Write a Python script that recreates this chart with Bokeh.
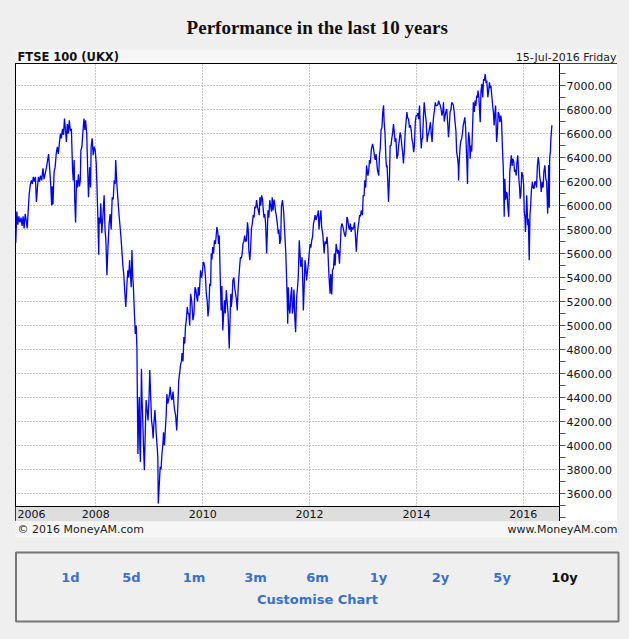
from datetime import datetime
import pandas as pd
from bokeh.plotting import figure
from bokeh.models import Range1d, LinearAxis, FixedTicker, NumeralTickFormatter, Grid, Span, Spacer
from bokeh.layouts import column, row
from bokeh.embed import file_html
from bokeh.resources import INLINE
from bokeh.core.properties import value

# ---------------- data (FTSE 100 closes) ----------------
y2006 = [("2006-07-03", 5690), ("2006-07-10", 5950), ("2006-07-17", 5840), ("2006-07-24", 5910),
         ("2006-07-31", 5860), ("2006-08-08", 5900), ("2006-08-15", 5830), ("2006-08-22", 5910),
         ("2006-08-29", 5810), ("2006-09-05", 5930), ("2006-09-12", 5880), ("2006-09-19", 5810),
         ("2006-09-26", 5960), ("2006-10-03", 6100), ("2006-10-10", 6170), ("2006-10-17", 6210),
         ("2006-10-24", 6180), ("2006-10-31", 6240), ("2006-11-07", 6200), ("2006-11-14", 6240),
         ("2006-11-21", 6030), ("2006-11-28", 6150), ("2006-12-05", 6240), ("2006-12-12", 6200),
         ("2006-12-19", 6250), ("2006-12-27", 6210)]
y2007 = [("2007-01-05", 6310), ("2007-01-12", 6220), ("2007-01-19", 6260), ("2007-01-29", 6320),
         ("2007-02-06", 6380), ("2007-02-12", 6430), ("2007-02-20", 6300), ("2007-02-27", 6170),
         ("2007-03-05", 6000), ("2007-03-09", 6160), ("2007-03-14", 6010), ("2007-03-22", 6280),
         ("2007-03-29", 6320), ("2007-04-06", 6440), ("2007-04-13", 6490), ("2007-04-20", 6430),
         ("2007-04-27", 6520), ("2007-05-04", 6600), ("2007-05-11", 6560), ("2007-05-18", 6640),
         ("2007-05-25", 6590), ("2007-06-01", 6725), ("2007-06-08", 6620), ("2007-06-14", 6530),
         ("2007-06-20", 6680), ("2007-06-27", 6600), ("2007-07-04", 6710), ("2007-07-11", 6620),
         ("2007-07-18", 6640), ("2007-07-26", 6300), ("2007-07-31", 6210), ("2007-08-06", 6380),
         ("2007-08-10", 6040), ("2007-08-16", 5860), ("2007-08-22", 6210), ("2007-08-29", 6150),
         ("2007-09-04", 6260), ("2007-09-11", 6160), ("2007-09-17", 6210), ("2007-09-21", 6460),
         ("2007-09-28", 6490), ("2007-10-05", 6620), ("2007-10-12", 6725), ("2007-10-18", 6630),
         ("2007-10-23", 6710), ("2007-10-31", 6600), ("2007-11-06", 6320), ("2007-11-12", 6070),
         ("2007-11-20", 6320), ("2007-11-26", 6150), ("2007-11-30", 6490), ("2007-12-07", 6560),
         ("2007-12-14", 6420), ("2007-12-21", 6490), ("2007-12-28", 6460)]
y2008 = [("2008-01-04", 6350), ("2008-01-09", 6160), ("2008-01-15", 5900), ("2008-01-21", 5590),
         ("2008-01-24", 5900), ("2008-01-30", 5850), ("2008-02-04", 6020), ("2008-02-11", 5770),
         ("2008-02-18", 5900), ("2008-02-27", 6085), ("2008-03-04", 5800), ("2008-03-10", 5710),
         ("2008-03-17", 5420), ("2008-03-24", 5650), ("2008-04-01", 5850), ("2008-04-08", 5930),
         ("2008-04-15", 5800), ("2008-04-22", 6070), ("2008-04-29", 6050), ("2008-05-06", 6210),
         ("2008-05-12", 6180), ("2008-05-16", 6380), ("2008-05-23", 6200), ("2008-05-30", 6070),
         ("2008-06-06", 5950), ("2008-06-13", 5850), ("2008-06-20", 5750), ("2008-06-27", 5630),
         ("2008-07-04", 5500), ("2008-07-10", 5430), ("2008-07-16", 5300), ("2008-07-24", 5155),
         ("2008-08-01", 5350), ("2008-08-07", 5460), ("2008-08-13", 5400), ("2008-08-19", 5545),
         ("2008-08-25", 5420), ("2008-08-30", 5320), ("2008-09-04", 5630), ("2008-09-10", 5400),
         ("2008-09-15", 5295), ("2008-09-21", 5100), ("2008-09-27", 4930), ("2008-10-03", 5000),
         ("2008-10-08", 4820), ("2008-10-12", 4300), ("2008-10-15", 3930), ("2008-10-20", 4250),
         ("2008-10-24", 4405), ("2008-10-28", 4000), ("2008-11-01", 3864), ("2008-11-05", 4300),
         ("2008-11-08", 4640), ("2008-11-12", 4400), ("2008-11-17", 4210), ("2008-11-22", 4000),
         ("2008-11-28", 3795), ("2008-12-04", 4100), ("2008-12-10", 4380), ("2008-12-16", 4300),
         ("2008-12-23", 4210), ("2008-12-30", 4400)]
y2009 = [("2009-01-04", 4630), ("2009-01-09", 4450), ("2009-01-16", 4210), ("2009-01-22", 4150),
         ("2009-01-27", 4060), ("2009-02-02", 4200), ("2009-02-08", 4295), ("2009-02-13", 4200),
         ("2009-02-17", 4100), ("2009-02-23", 4000), ("2009-02-28", 3905), ("2009-03-03", 3517),
         ("2009-03-09", 3650), ("2009-03-16", 3822), ("2009-03-22", 3800), ("2009-03-28", 3930),
         ("2009-04-03", 4000), ("2009-04-08", 4110), ("2009-04-14", 4000), ("2009-04-20", 4125),
         ("2009-04-26", 4250), ("2009-05-01", 4430), ("2009-05-07", 4350), ("2009-05-13", 4380),
         ("2009-05-19", 4430), ("2009-05-24", 4490), ("2009-05-30", 4400), ("2009-06-05", 4380),
         ("2009-06-12", 4450), ("2009-06-18", 4350), ("2009-06-23", 4295), ("2009-06-30", 4250),
         ("2009-07-07", 4125), ("2009-07-14", 4300), ("2009-07-21", 4545), ("2009-07-27", 4600),
         ("2009-08-02", 4670), ("2009-08-08", 4700), ("2009-08-13", 4770), ("2009-08-19", 4700),
         ("2009-08-25", 4905), ("2009-08-31", 4850), ("2009-09-05", 4990), ("2009-09-11", 5050),
         ("2009-09-17", 5155), ("2009-09-23", 5100), ("2009-09-28", 5100), ("2009-10-04", 5000),
         ("2009-10-10", 5265), ("2009-10-18", 5200), ("2009-10-26", 5045), ("2009-11-02", 5100),
         ("2009-11-09", 5320), ("2009-11-15", 5300), ("2009-11-20", 5240), ("2009-11-27", 5200),
         ("2009-12-01", 5320), ("2009-12-08", 5250), ("2009-12-17", 5460), ("2009-12-24", 5400),
         ("2009-12-31", 5460)]
y2010 = [("2010-01-04", 5530), ("2010-01-10", 5520), ("2010-01-14", 5490), ("2010-01-20", 5400),
         ("2010-01-25", 5270), ("2010-02-01", 5200), ("2010-02-06", 5075), ("2010-02-12", 5150),
         ("2010-02-18", 5350), ("2010-02-24", 5330), ("2010-02-28", 5600), ("2010-03-05", 5550),
         ("2010-03-10", 5655), ("2010-03-16", 5600), ("2010-03-22", 5710), ("2010-03-29", 5680),
         ("2010-04-08", 5820), ("2010-04-14", 5780), ("2010-04-19", 5680), ("2010-04-24", 5750),
         ("2010-04-30", 5430), ("2010-05-07", 5125), ("2010-05-12", 5330), ("2010-05-18", 4960),
         ("2010-05-24", 5100), ("2010-05-30", 5210), ("2010-06-04", 5100), ("2010-06-11", 5295),
         ("2010-06-17", 5200), ("2010-06-23", 5100), ("2010-07-01", 4808), ("2010-07-06", 5020),
         ("2010-07-12", 5265), ("2010-07-15", 5155), ("2010-07-21", 5230), ("2010-07-26", 5375),
         ("2010-08-02", 5400), ("2010-08-07", 5320), ("2010-08-13", 5270), ("2010-08-19", 5220),
         ("2010-08-25", 5125), ("2010-08-30", 5280), ("2010-09-05", 5405), ("2010-09-11", 5500),
         ("2010-09-16", 5570), ("2010-09-22", 5560), ("2010-09-28", 5600), ("2010-10-03", 5680),
         ("2010-10-09", 5700), ("2010-10-15", 5750), ("2010-10-21", 5700), ("2010-10-27", 5710),
         ("2010-11-03", 5860), ("2010-11-08", 5800), ("2010-11-12", 5630), ("2010-11-19", 5545),
         ("2010-11-25", 5650), ("2010-11-30", 5810), ("2010-12-06", 5850), ("2010-12-12", 5920),
         ("2010-12-18", 5900), ("2010-12-23", 5990), ("2010-12-30", 5980)]
y2011 = [("2011-01-04", 6045), ("2011-01-10", 5990), ("2011-01-16", 5960), ("2011-01-22", 5920),
         ("2011-01-27", 6070), ("2011-02-02", 6000), ("2011-02-08", 6085), ("2011-02-14", 6050),
         ("2011-02-19", 5960), ("2011-02-24", 5900), ("2011-03-01", 5930), ("2011-03-07", 5850),
         ("2011-03-14", 5600), ("2011-03-18", 5750), ("2011-03-23", 5960), ("2011-03-29", 5900),
         ("2011-04-04", 6045), ("2011-04-10", 6000), ("2011-04-16", 5950), ("2011-04-21", 6070),
         ("2011-04-27", 5960), ("2011-05-03", 6050), ("2011-05-08", 6015), ("2011-05-14", 5950),
         ("2011-05-20", 5905), ("2011-05-26", 5850), ("2011-06-01", 5765), ("2011-06-06", 5800),
         ("2011-06-12", 5680), ("2011-06-18", 5720), ("2011-06-23", 5990), ("2011-06-30", 6045),
         ("2011-07-05", 5990), ("2011-07-09", 5930), ("2011-07-16", 5765), ("2011-07-23", 5600),
         ("2011-07-28", 5405), ("2011-08-02", 5200), ("2011-08-05", 5015), ("2011-08-09", 5320),
         ("2011-08-14", 5150), ("2011-08-20", 5100), ("2011-08-26", 5250), ("2011-09-01", 5320),
         ("2011-09-06", 5100), ("2011-09-12", 5155), ("2011-09-16", 5300), ("2011-09-19", 5240),
         ("2011-09-23", 5050), ("2011-09-28", 4945), ("2011-10-05", 5240), ("2011-10-10", 5300),
         ("2011-10-16", 5405), ("2011-10-23", 5710), ("2011-10-28", 5600), ("2011-11-02", 5490),
         ("2011-11-07", 5520), ("2011-11-11", 5570), ("2011-11-16", 5350), ("2011-11-20", 5125),
         ("2011-11-25", 5300), ("2011-12-01", 5545), ("2011-12-06", 5500), ("2011-12-12", 5375),
         ("2011-12-18", 5450), ("2011-12-24", 5515), ("2011-12-30", 5600)]
y2012 = [("2012-01-05", 5680), ("2012-01-10", 5650), ("2012-01-16", 5710), ("2012-01-22", 5740),
         ("2012-01-28", 5850), ("2012-02-03", 5880), ("2012-02-08", 5920), ("2012-02-14", 5880),
         ("2012-02-20", 5905), ("2012-02-26", 5930), ("2012-03-01", 5960), ("2012-03-06", 5800),
         ("2012-03-13", 5905), ("2012-03-19", 5960), ("2012-03-24", 5820), ("2012-04-01", 5760),
         ("2012-04-10", 5600), ("2012-04-16", 5700), ("2012-04-23", 5680), ("2012-04-30", 5740),
         ("2012-05-05", 5650), ("2012-05-10", 5490), ("2012-05-16", 5350), ("2012-05-21", 5265),
         ("2012-05-25", 5430), ("2012-06-01", 5260), ("2012-06-06", 5460), ("2012-06-13", 5480),
         ("2012-06-19", 5600), ("2012-06-24", 5500), ("2012-07-01", 5680), ("2012-07-05", 5650),
         ("2012-07-11", 5600), ("2012-07-17", 5630), ("2012-07-24", 5515), ("2012-07-29", 5650),
         ("2012-08-04", 5820), ("2012-08-09", 5850), ("2012-08-15", 5830), ("2012-08-21", 5795),
         ("2012-08-27", 5760), ("2012-09-02", 5740), ("2012-09-08", 5800), ("2012-09-13", 5905),
         ("2012-09-19", 5880), ("2012-09-25", 5820), ("2012-10-01", 5800), ("2012-10-06", 5850),
         ("2012-10-12", 5780), ("2012-10-17", 5820), ("2012-10-23", 5800), ("2012-10-29", 5820),
         ("2012-11-04", 5860), ("2012-11-09", 5765), ("2012-11-16", 5615), ("2012-11-22", 5750),
         ("2012-11-28", 5820), ("2012-12-04", 5870), ("2012-12-09", 5920), ("2012-12-14", 5910),
         ("2012-12-20", 5960), ("2012-12-28", 5920)]
y2013 = [("2013-01-02", 6085), ("2013-01-08", 6080), ("2013-01-13", 6210), ("2013-01-19", 6150),
         ("2013-01-25", 6335), ("2013-02-03", 6250), ("2013-02-08", 6280), ("2013-02-14", 6380),
         ("2013-02-20", 6350), ("2013-02-26", 6460), ("2013-03-07", 6515), ("2013-03-13", 6480),
         ("2013-03-19", 6420), ("2013-03-25", 6380), ("2013-03-31", 6430), ("2013-04-09", 6300),
         ("2013-04-18", 6250), ("2013-04-24", 6430), ("2013-04-29", 6480), ("2013-05-04", 6630),
         ("2013-05-10", 6650), ("2013-05-15", 6765), ("2013-05-21", 6835), ("2013-05-25", 6700),
         ("2013-05-31", 6600), ("2013-06-06", 6400), ("2013-06-10", 6320), ("2013-06-14", 6335),
         ("2013-06-19", 6200), ("2013-06-24", 6030), ("2013-07-01", 6250), ("2013-07-05", 6500),
         ("2013-07-11", 6500), ("2013-07-16", 6555), ("2013-07-22", 6600), ("2013-07-28", 6680),
         ("2013-08-02", 6620), ("2013-08-08", 6530), ("2013-08-14", 6560), ("2013-08-20", 6390),
         ("2013-08-27", 6420), ("2013-09-01", 6500), ("2013-09-06", 6550), ("2013-09-12", 6610),
         ("2013-09-17", 6580), ("2013-09-23", 6500), ("2013-09-28", 6450), ("2013-10-04", 6350),
         ("2013-10-10", 6450), ("2013-10-16", 6610), ("2013-10-22", 6700), ("2013-10-28", 6780),
         ("2013-11-02", 6730), ("2013-11-08", 6720), ("2013-11-14", 6650), ("2013-11-20", 6670),
         ("2013-11-26", 6630), ("2013-12-01", 6555), ("2013-12-07", 6520), ("2013-12-13", 6445),
         ("2013-12-18", 6500), ("2013-12-24", 6695), ("2013-12-30", 6750)]
y2014 = [("2014-01-05", 6750), ("2014-01-10", 6770), ("2014-01-16", 6720), ("2014-01-22", 6834),
         ("2014-01-28", 6620), ("2014-02-03", 6475), ("2014-02-08", 6560), ("2014-02-12", 6555),
         ("2014-02-18", 6740), ("2014-02-23", 6860), ("2014-03-04", 6750), ("2014-03-09", 6700),
         ("2014-03-15", 6530), ("2014-03-20", 6580), ("2014-03-26", 6610), ("2014-04-01", 6650),
         ("2014-04-07", 6695), ("2014-04-12", 6600), ("2014-04-18", 6530), ("2014-04-24", 6680),
         ("2014-04-29", 6750), ("2014-05-05", 6800), ("2014-05-10", 6860), ("2014-05-15", 6830),
         ("2014-05-21", 6834), ("2014-05-27", 6840), ("2014-06-02", 6875), ("2014-06-07", 6850),
         ("2014-06-13", 6834), ("2014-06-19", 6800), ("2014-06-24", 6750), ("2014-06-30", 6780),
         ("2014-07-05", 6860), ("2014-07-10", 6700), ("2014-07-16", 6750), ("2014-07-21", 6780),
         ("2014-07-27", 6805), ("2014-08-02", 6700), ("2014-08-08", 6570), ("2014-08-13", 6650),
         ("2014-08-19", 6780), ("2014-08-25", 6800), ("2014-08-30", 6860), ("2014-09-05", 6850),
         ("2014-09-11", 6834), ("2014-09-16", 6780), ("2014-09-22", 6695), ("2014-09-28", 6620),
         ("2014-10-03", 6445), ("2014-10-09", 6400), ("2014-10-14", 6335), ("2014-10-16", 6210),
         ("2014-10-21", 6380), ("2014-10-27", 6500), ("2014-11-01", 6540), ("2014-11-06", 6555),
         ("2014-11-12", 6610), ("2014-11-17", 6670), ("2014-11-22", 6700), ("2014-11-28", 6735),
         ("2014-12-03", 6650), ("2014-12-08", 6475), ("2014-12-12", 6350), ("2014-12-16", 6180),
         ("2014-12-20", 6500), ("2014-12-24", 6610), ("2014-12-30", 6550)]
y2015 = [("2015-01-03", 6390), ("2015-01-08", 6500), ("2015-01-14", 6450), ("2015-01-19", 6620),
         ("2015-01-25", 6860), ("2015-01-31", 6780), ("2015-02-06", 6875), ("2015-02-11", 6830),
         ("2015-02-17", 6917), ("2015-02-22", 6900), ("2015-02-26", 6958), ("2015-03-04", 6900),
         ("2015-03-10", 6760), ("2015-03-13", 6695), ("2015-03-18", 6945), ("2015-03-24", 7014),
         ("2015-03-30", 6900), ("2015-04-05", 7055), ("2015-04-10", 7040), ("2015-04-16", 7097),
         ("2015-04-22", 7020), ("2015-04-27", 7041), ("2015-05-04", 6903), ("2015-05-09", 6950),
         ("2015-05-15", 7028), ("2015-05-20", 6980), ("2015-05-25", 7000), ("2015-06-02", 6890),
         ("2015-06-07", 6820), ("2015-06-11", 6780), ("2015-06-16", 6667), ("2015-06-22", 6780),
         ("2015-06-26", 6834), ("2015-07-03", 6530), ("2015-07-08", 6600), ("2015-07-14", 6780),
         ("2015-07-20", 6760), ("2015-07-25", 6695), ("2015-08-01", 6750), ("2015-08-06", 6700),
         ("2015-08-12", 6475), ("2015-08-18", 6300), ("2015-08-21", 6100), ("2015-08-24", 5906),
         ("2015-08-28", 6224), ("2015-09-03", 6050), ("2015-09-08", 6114), ("2015-09-13", 6100),
         ("2015-09-17", 6003), ("2015-09-24", 5906), ("2015-10-01", 6280), ("2015-10-06", 6350),
         ("2015-10-12", 6418), ("2015-10-17", 6330), ("2015-10-23", 6390), ("2015-10-29", 6360),
         ("2015-11-03", 6280), ("2015-11-09", 6300), ("2015-11-14", 6250), ("2015-11-19", 6363),
         ("2015-11-25", 6418), ("2015-12-02", 6224), ("2015-12-07", 6150), ("2015-12-11", 6058),
         ("2015-12-16", 6100), ("2015-12-22", 6280), ("2015-12-29", 6250)]
y2016 = [("2016-01-04", 6170), ("2016-01-08", 5948), ("2016-01-13", 5900), ("2016-01-16", 5780),
         ("2016-01-20", 5870), ("2016-01-25", 6086), ("2016-02-01", 5837), ("2016-02-05", 5890),
         ("2016-02-11", 5545), ("2016-02-16", 5920), ("2016-02-21", 6000), ("2016-02-25", 6114),
         ("2016-03-04", 6197), ("2016-03-09", 6150), ("2016-03-15", 6141), ("2016-03-21", 6200),
         ("2016-03-26", 6197), ("2016-04-01", 6150), ("2016-04-07", 6335), ("2016-04-13", 6404),
         ("2016-04-18", 6350), ("2016-04-22", 6252), ("2016-04-28", 6200), ("2016-05-03", 6114),
         ("2016-05-10", 6197), ("2016-05-16", 6150), ("2016-05-21", 6280), ("2016-05-28", 6335),
         ("2016-06-03", 6224), ("2016-06-09", 6200), ("2016-06-13", 6050), ("2016-06-16", 5933),
         ("2016-06-20", 6114), ("2016-06-23", 6338), ("2016-06-27", 5982), ("2016-06-30", 6400),
         ("2016-07-05", 6450), ("2016-07-08", 6556), ("2016-07-12", 6620), ("2016-07-15", 6669)]

price_ticks = [3600, 3800, 4000, 4200, 4400, 4600, 4800, 5000, 5200, 5400,
               5600, 5800, 6000, 6200, 6400, 6600, 6800, 7000]
price_minor = [3400, 3500, 3700, 3900, 4100, 4300, 4500, 4700, 4900, 5100, 5300, 5500,
               5700, 5900, 6100, 6300, 6500, 6700, 6900, 7100]
year_tick_dates = ["2008-01-01", "2010-01-01", "2012-01-01", "2014-01-01", "2016-01-01"]
year_labels = ["2008", "2010", "2012", "2014", "2016"]
first_year_label = "2006"

title_text = "Performance in the last 10 years"
header_left = "FTSE 100 (UKX)"
header_right = "15-Jul-2016 Friday"
footer_left = "\u00a9 2016 MoneyAM.com"
footer_right = "www.MoneyAM.com"
buttons = ["1d", "5d", "1m", "3m", "6m", "1y", "2y", "5y", "10y"]
customise_text = "Customise Chart"

# ---------------- build ----------------
series = y2006 + y2007 + y2008 + y2009 + y2010 + y2011 + y2012 + y2013 + y2014 + y2015 + y2016
dates = pd.to_datetime([d for d, _ in series])
closes = [c for _, c in series]

BG = "#efefef"
STRIP = "#f6f6f6"
FONT = "DejaVu Sans"

x_start = datetime(2006, 7, 1)
x_end = datetime(2016, 9, 5)
y_start, y_end = 3367, 7184
strip_top = 3492

# ---- top: title + header strip ----
top = figure(width=613, height=55, x_range=Range1d(0, 613), y_range=Range1d(55, 0),
             toolbar_location=None, output_backend="svg", min_border=0,
             x_axis_location=None, y_axis_location=None,
             background_fill_color=BG, border_fill_color=BG, outline_line_color=None)
top.grid.visible = False
top.quad(left=[7], right=[609], top=[41], bottom=[55], fill_color=STRIP, line_color=None)
top.text(x=[308.7], y=[19], text=[title_text], text_font=value("Liberation Serif"),
         text_font_style="bold", text_font_size="19px", text_align="center",
         text_baseline="middle", text_color="#111111")
top.text(x=[9], y=[48.5], text=[header_left], text_font=value(FONT), text_font_style="bold",
         text_font_size="11.5px", text_align="left", text_baseline="middle", text_color="#111111")
top.text(x=[608], y=[48.5], text=[header_right], text_font=value(FONT),
         text_font_size="11px", text_align="right", text_baseline="middle", text_color="#222222")

# ---- main chart ----
p = figure(width=602, height=458, x_axis_type="datetime",
           x_range=Range1d(x_start, x_end), y_range=Range1d(y_start, y_end),
           x_axis_location=None, y_axis_location=None,
           toolbar_location=None, output_backend="svg",
           min_border_left=0, min_border_right=58, min_border_top=0, min_border_bottom=0,
           background_fill_color="white", border_fill_color="white",
           outline_line_color="black")
p.xgrid.visible = False
p.ygrid.visible = False
p.styles = {"outline": "1px solid #000000", "outline-offset": "-1px"}

year_ms = [int(pd.Timestamp(d).value // 10**6) for d in year_tick_dates]
p.add_layout(Grid(dimension=0, ticker=FixedTicker(ticks=year_ms),
                  grid_line_color="#8c8c8c", grid_line_dash="1 2", grid_line_width=1))
p.add_layout(Grid(dimension=1, ticker=FixedTicker(ticks=price_ticks),
                  grid_line_color="#8c8c8c", grid_line_dash="1 2", grid_line_width=1))

ax = LinearAxis(ticker=FixedTicker(ticks=price_ticks, minor_ticks=price_minor),
                formatter=NumeralTickFormatter(format="0.00"),
                major_tick_out=6, major_tick_in=0, minor_tick_out=6, minor_tick_in=0,
                major_tick_line_color="#555555", minor_tick_line_color="#555555",
                axis_line_color="black",
                major_label_text_font=FONT, major_label_text_font_size="11px",
                major_label_text_color="#111122", major_label_standoff=1)
p.add_layout(ax, "right")

p.quad(left=[x_start], right=[x_end], bottom=[y_start], top=[strip_top],
       fill_color="#dedede", line_color=None)
p.add_layout(Span(location=strip_top, dimension="width", line_color="black", line_width=1))

label_y = (y_start + strip_top) / 2
p.text(x=pd.to_datetime(year_tick_dates), y=[label_y] * len(year_labels), text=year_labels,
       text_font=value(FONT), text_font_size="11px", text_align="center",
       text_baseline="middle", text_color="#111111")
p.text(x=[x_start], y=[label_y], text=[first_year_label], x_offset=2,
       text_font=value(FONT), text_font_size="11px", text_align="left",
       text_baseline="middle", text_color="#111111")

p.line(dates, closes, line_color="#0000ff", line_width=1.3)

# ---- bottom: footer + buttons ----
bot = figure(width=613, height=102, x_range=Range1d(0, 613), y_range=Range1d(102, 0),
             toolbar_location=None, output_backend="svg", min_border=0,
             x_axis_location=None, y_axis_location=None,
             background_fill_color=BG, border_fill_color=BG, outline_line_color=None)
bot.grid.visible = False
bot.quad(left=[7], right=[609], top=[0], bottom=[16], fill_color=STRIP, line_color=None)
bot.text(x=[9], y=[8], text=[footer_left], text_font=value(FONT), text_font_size="11px",
         text_align="left", text_baseline="middle", text_color="#222222")
bot.text(x=[609], y=[8], text=[footer_right], text_font=value(FONT), text_font_size="11px",
         text_align="right", text_baseline="middle", text_color="#222222")
bot.quad(left=[7.5], right=[610], top=[31], bottom=[100], fill_color=None,
         line_color="#777777", line_width=2)
btn_x = [62, 123, 185.6, 247, 309, 370, 432, 493.6, 556]
btn_colors = ["#3a6fd0"] * (len(buttons) - 1) + ["#111111"]
bot.text(x=btn_x, y=[56] * len(buttons), text=buttons, text_color=btn_colors,
         text_font=value(FONT), text_font_style="bold", text_font_size="13px",
         text_align="center", text_baseline="middle")
bot.text(x=[309], y=[77.5], text=[customise_text], text_color="#3a6fd0",
         text_font=value(FONT), text_font_style="bold", text_font_size="13px",
         text_align="center", text_baseline="middle")

layout = column(top, row(Spacer(width=7, height=458), p), bot)

html = file_html(layout, INLINE, title="FTSE 100 performance")
html = html.replace("<head>", "<head><style>body{background:#efefef;padding:8px !important;}</style>", 1)
open("out.html", "w").write(html)
